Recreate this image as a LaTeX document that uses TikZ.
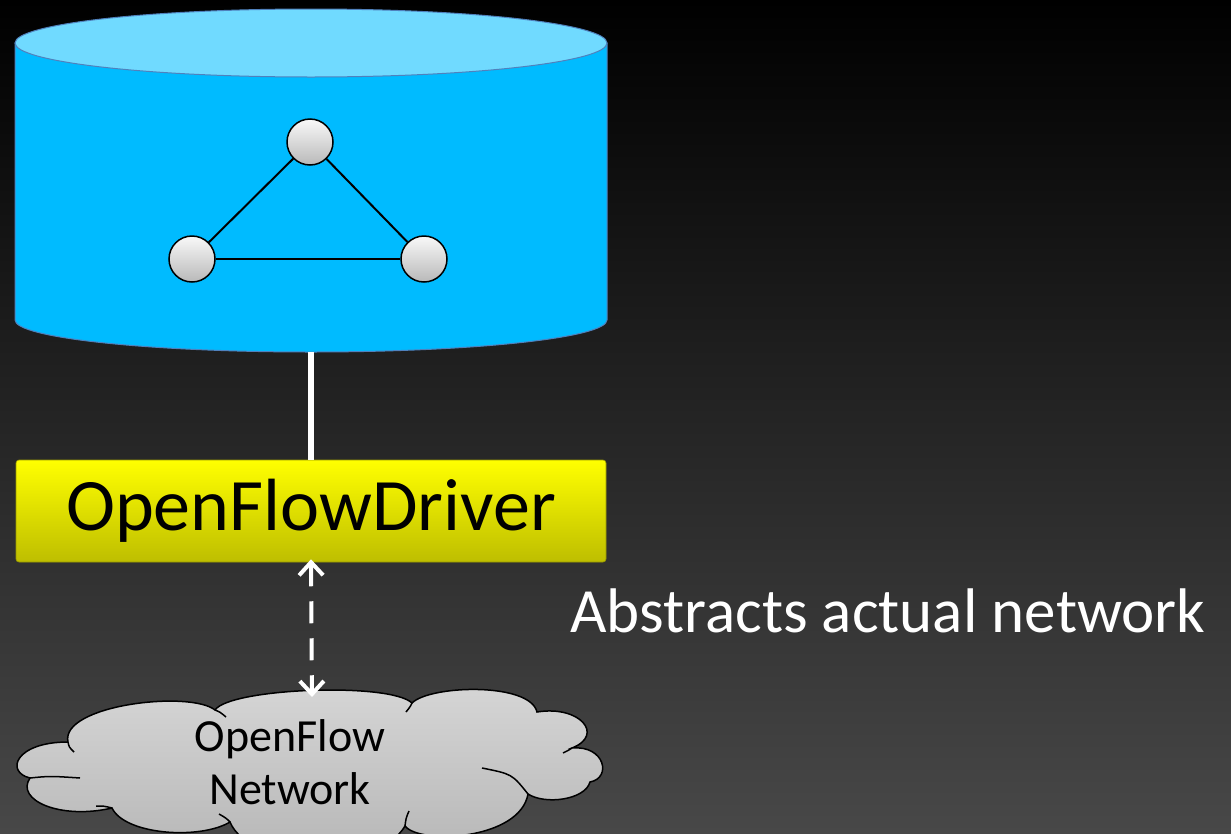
\documentclass[tikz,border=0pt]{standalone}
\usepackage{fontspec}
\setmainfont{Carlito}
\usetikzlibrary{arrows.meta}
\definecolor{cylbody}{RGB}{0,187,255}
\definecolor{cyltop}{RGB}{112,218,255}
\definecolor{cylline}{RGB}{79,129,189}
\definecolor{drvtop}{RGB}{255,255,0}
\definecolor{drvbot}{RGB}{190,190,0}
\definecolor{bgbot}{RGB}{72,72,72}
\definecolor{cloudtop}{RGB}{214,214,214}
\definecolor{cloudbot}{RGB}{180,180,180}
\tikzset{
  vertex/.style={circle, draw=black, line width=1.5pt, minimum size=46pt, inner sep=0pt,
    top color=white!95!gray, bottom color=gray!55},
  edge/.style={draw=black, line width=2pt},
  driverbox/.style={rectangle, rounded corners=3pt, minimum width=590pt, minimum height=102pt,
    inner sep=0pt, top color=drvtop, bottom color=drvbot, draw=drvbot!80!black, line width=0.6pt,
    font=\fontsize{74}{80}\selectfont, text=black},
  link/.style={draw=white, line width=6pt},
  barb/.tip={Straight Barb[length=13pt,width=24pt,line width=4pt]},
  dasharrow/.style={draw=white, line width=4pt, dash pattern=on 22pt off 15pt, barb-barb},
  cloudline/.style={draw=black, line width=1.5pt},
}
\begin{document}
\begin{tikzpicture}[x=1pt, y=-1pt]
  \useasboundingbox (0,0) rectangle (1231,833);
  % dark gradient backdrop
  \shade[top color=black, bottom color=bgbot] (0,0) rectangle (1231,833);

  % topology store (cylinder)
  \path[fill=cylbody, draw=cylline, line width=1pt]
    (15,43) -- (15,320) arc[start angle=180, end angle=0, x radius=296, y radius=32]
    -- (607,43) -- cycle;
  \path[fill=cyltop, draw=cylline, line width=1pt] (311,43) ellipse [x radius=296, y radius=34];
  \node[inner sep=0pt, minimum width=592pt, minimum height=342pt] (db) at (311,181) {};

  % small graph inside the store
  \node[vertex] (n1) at (310,142) {};
  \node[vertex] (n2) at (192,259) {};
  \node[vertex] (n3) at (424,259) {};
  \draw[edge] (n1) -- (n2);
  \draw[edge] (n1) -- (n3);
  \draw[edge] (n2) -- (n3);

  % driver
  \node[driverbox] (drv) at (311,511) {OpenFlowDriver};
  \draw[link] (db.south) -- (drv.north);

  % network cloud
  \path[cloudline, top color=cloudtop, bottom color=cloudbot]
    (30,778) .. controls (5,772) and (15,742) .. (68,742)
    .. controls (60,705) and (190,690) .. (215,710)
    .. controls (230,688) and (390,682) .. (412,703)
    .. controls (430,685) and (530,682) .. (537,712)
    .. controls (580,705) and (605,735) .. (572,748)
    .. controls (605,745) and (612,778) .. (590,782)
    .. controls (585,800) and (545,805) .. (528,794)
    .. controls (520,840) and (420,845) .. (405,826)
    .. controls (380,870) and (250,870) .. (230,822)
    .. controls (200,840) and (125,835) .. (112,808)
    .. controls (60,820) and (15,800) .. (30,778) -- cycle;
  % inner folds of the cloud outline
  \draw[cloudline] (68,742) .. controls (69,747) .. (74,752);
  \draw[cloudline] (215,710) .. controls (220,712) .. (226,717);
  \draw[cloudline] (412,703) .. controls (410,707) .. (406,712);
  \draw[cloudline] (572,748) .. controls (569,750) .. (563,753);
  \draw[cloudline] (528,794) .. controls (512,774) .. (482,768);
  \draw[cloudline] (405,826) .. controls (406,818) .. (409,811);
  \draw[cloudline] (230,822) .. controls (226,818) .. (219,814);
  \draw[cloudline] (112,808) .. controls (104,806) .. (96,806);
  \draw[cloudline] (30,778) .. controls (50,776) .. (80,778);
  \node[align=center, font=\fontsize{46}{53}\selectfont, text=black, inner sep=0pt]
    (net) at (290,762) {OpenFlow\\Network};
  \coordinate (nettop) at (312,697);

  % driver <-> network
  \draw[dasharrow] ([yshift=3pt]drv.south) -- (nettop);

  % caption
  \node[anchor=base west, inner sep=0pt, text=white, font=\fontsize{63}{70}\selectfont]
    (cap) at (570,632) {Abstracts actual network};
\end{tikzpicture}
\end{document}
